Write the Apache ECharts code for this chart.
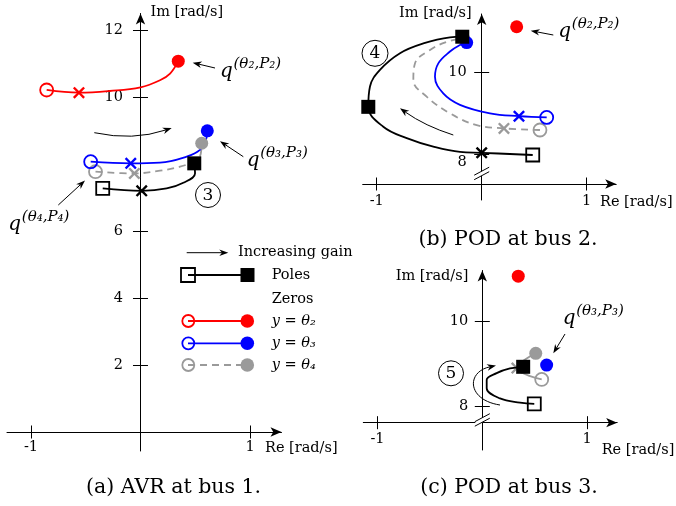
<!DOCTYPE html>
<html>
<head>
<meta charset="utf-8">
<title>Root loci</title>
<script src="https://cdn.jsdelivr.net/npm/echarts@6.0.0/dist/echarts.min.js"></script>
<style>
  html, body { margin: 0; padding: 0; background: #fff; }
  #chart { width: 676px; height: 506px; }
</style>
</head>
<body>
<div id="chart"></div>
<script>
const FONT = 'DejaVu Serif';
const RED = '#ff0000', BLUE = '#0000ff', GRAY = '#9a9a9a', BLACK = '#000000';

// (a) AVR at bus 1 -- loci as [Re, Im] rad/s, from open marker to filled marker
const avrPoles = [[-0.345, 7.27], [0.011, 7.2], [0.239, 7.27], [0.391, 7.44], [0.498, 7.72], [0.491, 8.02]];
const avrZerosT2 = [[-0.857, 10.21], [-0.562, 10.13], [-0.28, 10.18], [0, 10.29], [0.178, 10.5], [0.27, 10.7], [0.345, 11.07]];
const avrZerosT3 = [[-0.455, 8.07], [-0.089, 8.02], [0.178, 8.04], [0.422, 8.22], [0.543, 8.42], [0.598, 8.72], [0.61, 8.99]];
const avrZerosT4 = [[-0.411, 7.77], [-0.056, 7.72], [0.178, 7.8], [0.361, 7.92], [0.468, 8.05], [0.543, 8.22], [0.559, 8.62]];

// (b) POD at bus 2
const pod2Poles = [[0.486, 7.975], [0, 8.03], [-0.207, 8.05], [-0.461, 8.18], [-0.714, 8.39], [-0.937, 8.67], [-1.08, 9.16],
  [-1.064, 9.66], [-0.969, 10.07], [-0.778, 10.48], [-0.556, 10.72], [-0.302, 10.87], [-0.185, 10.885]];
const pod2ZerosT3 = [[0.619, 8.9], [0.355, 8.93], [0.079, 9.0], [-0.207, 9.21], [-0.366, 9.49], [-0.445, 9.9], [-0.413, 10.23],
  [-0.302, 10.52], [-0.207, 10.68], [-0.143, 10.74]];
const pod2ZerosT4 = [[0.555, 8.59], [0.212, 8.63], [-0.048, 8.71], [-0.302, 9.0], [-0.524, 9.41], [-0.651, 9.82], [-0.635, 10.23],
  [-0.492, 10.56], [-0.333, 10.76], [-0.175, 10.85]];
const pod2ZeroT2 = [[0.333, 11.13]];

// (c) POD at bus 3
const pod3Poles = [[0.496, 8.05], [0.36, 8.08], [0.169, 8.18], [0.042, 8.42], [0.042, 8.62], [0.137, 8.78], [0.264, 8.89], [0.39, 8.93]];
const pod3ZerosT4 = [[0.567, 8.63], [0.33, 8.9], [0.51, 9.25]];
const pod3ZeroT3 = [[0.614, 8.97]];
const pod3ZeroT2 = [[0.343, 11.08]];

// ticks
const reTicks = [-1, 1];
const avrImTicks = [2, 4, 6, 10, 12];
const podImTicks = [8, 10];

// plot boxes in px and the value ranges they show; axes cross at Re = 0 and at xCut (Im)
const panels = [
  { left: 7, top: 13.5, width: 274.5, height: 437.5, re: [-1.2192, 1.2877], im: [-0.567, 12.493], xCut: 0 },
  { left: 362.7, top: 14, width: 253.5, height: 186, re: [-1.1333, 1.281], im: [6.8684, 11.444], xCut: 7.262 },
  { left: 363.3, top: 270.5, width: 253.9, height: 179.5, re: [-1.1355, 1.2872], im: [6.956, 11.215], xCut: 7.604 }
];

const CROSS = 'path://M0,1.4L1.4,0L5,3.6L8.6,0L10,1.4L6.4,5L10,8.6L8.6,10L5,6.4L1.4,10L0,8.6L3.6,5Z';
const axisText = { fontFamily: FONT, fontSize: 14.5, color: '#000' };
const blackLine = { color: '#000', width: 1 };

// one locus: curve + open start marker + cross + filled marker(s)
function locus(p, pts, color, shape, crossAt, filledAt, dashed, z) {
  const base = { xAxisIndex: p * 2, yAxisIndex: p * 2, animation: false, silent: true, z: z || 2 };
  const out = [{
    ...base, type: 'line', data: pts, smooth: 0.4, showSymbol: false,
    lineStyle: { color, width: 1.8, type: dashed ? [7, 5] : 'solid' }
  }, {
    ...base, type: 'scatter', data: [pts[0]], symbol: shape, symbolSize: 13,
    itemStyle: { color: 'rgba(0,0,0,0)', borderColor: color, borderWidth: 1.8, opacity: 1 }
  }];
  if (crossAt != null) {
    out.push({ ...base, type: 'scatter', data: [pts[crossAt]], symbol: CROSS, symbolSize: 12, itemStyle: { color, opacity: 1 } });
  }
  out.push({
    ...base, type: 'scatter', data: filledAt.map(i => pts[i]), symbol: shape,
    symbolSize: shape === 'rect' ? 14 : 13, itemStyle: { color, opacity: 1 }
  });
  return out;
}

function dots(p, pts, color) {
  return { type: 'scatter', xAxisIndex: p * 2, yAxisIndex: p * 2, data: pts, symbol: 'circle', symbolSize: 13,
    itemStyle: { color, opacity: 1 }, animation: false, silent: true };
}

// where the axis lines sit, in px from the box edges
function cross(p) {
  const g = panels[p];
  const x0 = g.left + (0 - g.re[0]) / (g.re[1] - g.re[0]) * g.width;
  const y0 = g.top + g.height - (g.xCut - g.im[0]) / (g.im[1] - g.im[0]) * g.height;
  return { x0, y0, g };
}

// x axes: the visible one plus a twin that carries the upper half of each tick
function reAxes(p, margin) {
  const { y0, g } = cross(p);
  const common = { gridIndex: p, type: 'value', min: g.re[0], max: g.re[1], splitLine: { show: false } };
  return [{
    ...common, position: 'bottom', offset: y0 - (g.top + g.height),
    axisLine: { show: true, onZero: false, lineStyle: blackLine, symbol: ['none', 'arrow'], symbolSize: [7, 11] },
    axisTick: { show: true, customValues: reTicks, length: 6.5, lineStyle: blackLine },
    axisLabel: { customValues: reTicks, margin, ...axisText }
  }, {
    ...common, position: 'top', offset: g.top - y0,
    axisLine: { show: false, onZero: false },
    axisTick: { show: true, customValues: reTicks, length: 6.5, lineStyle: blackLine },
    axisLabel: { show: false }
  }];
}

function imAxes(p, ticks, o) {
  const { x0, g } = cross(p);
  const common = { gridIndex: p, type: 'value', min: g.im[0], max: g.im[1], splitLine: { show: false } };
  return [{
    ...common, position: 'left', offset: g.left - x0,
    axisLine: { show: true, onZero: false, lineStyle: blackLine, symbol: ['none', 'arrow'], symbolSize: [7, 11] },
    axisTick: { show: true, customValues: ticks, length: 7.5, lineStyle: blackLine },
    axisLabel: { customValues: ticks, margin: o.margin, ...axisText, formatter: o.formatter, rich: o.rich },
    name: 'Im [rad/s]', nameLocation: 'end', nameGap: o.nameGap, nameMoveOverlap: false,
    nameTextStyle: { ...axisText, align: o.nameAlign, verticalAlign: 'middle', padding: o.namePad }
  }, {
    ...common, position: 'right', offset: x0 - (g.left + g.width),
    axisLine: { show: false, onZero: false },
    axisTick: { show: true, customValues: ticks, length: 7.5, lineStyle: blackLine },
    axisLabel: { show: false }
  }];
}

// ---- annotation helpers (pixel space) ----
function txt(x, y, text, size, extra) {
  return { type: 'text', x, y, z: 20, silent: true,
    style: Object.assign({ text, fill: '#000', fontFamily: FONT, fontSize: size, align: 'left', verticalAlign: 'middle' }, extra || {}) };
}

function arrow(p0, p1, c1, c2) {
  const ctrl = c2 || c1 || p0;
  const ang = Math.atan2(p1[1] - ctrl[1], p1[0] - ctrl[0]);
  const ca = Math.cos(ang), sa = Math.sin(ang);
  const head = 9, w = 3.3;
  const back = [p1[0] - head * ca, p1[1] - head * sa];
  const notch = [p1[0] - head * 0.7 * ca, p1[1] - head * 0.7 * sa];
  const shape = { x1: p0[0], y1: p0[1], x2: notch[0], y2: notch[1] };
  if (c1) { shape.cpx1 = c1[0]; shape.cpy1 = c1[1]; }
  if (c2) { shape.cpx2 = c2[0]; shape.cpy2 = c2[1]; }
  return [
    c1 ? { type: 'bezierCurve', shape, z: 18, silent: true, style: { stroke: '#000', lineWidth: 1, fill: 'none' } }
       : { type: 'line', shape, z: 18, silent: true, style: { stroke: '#000', lineWidth: 1 } },
    { type: 'polygon', z: 18, silent: true,
      shape: { points: [p1, [back[0] + w * sa, back[1] - w * ca], notch, [back[0] - w * sa, back[1] + w * ca]] },
      style: { fill: '#000' } }
  ];
}

function qLabel(x, y, k) {
  return [
    txt(x, y, 'q', 20, { fontStyle: 'italic' }),
    txt(x + 13.5, y - 7, '(θ' + k + ',P' + k + ')', 15, { fontStyle: 'italic' })
  ];
}

function circled(cx, cy, r, n) {
  return [
    { type: 'circle', shape: { cx, cy, r }, z: 20, silent: true, style: { fill: 'none', stroke: '#000', lineWidth: 1 } },
    txt(cx, cy + 0.5, n, 17, { align: 'center' })
  ];
}

function axisBreak(cx, cy) {
  return [
    { type: 'polygon', z: 15, silent: true, shape: { points: [[cx - 7, cy + 4.5], [cx + 7, cy - 3], [cx + 7, cy - 7.5], [cx - 7, cy]] },
      style: { fill: '#fff' } },
    { type: 'line', z: 16, silent: true, shape: { x1: cx - 7.5, y1: cy + 4.7, x2: cx + 7.5, y2: cy - 3.3 }, style: { stroke: '#000', lineWidth: 1 } },
    { type: 'line', z: 16, silent: true, shape: { x1: cx - 7.5, y1: cy + 0.2, x2: cx + 7.5, y2: cy - 7.8 }, style: { stroke: '#000', lineWidth: 1 } }
  ];
}

function legendRow(y, color, shape, dashed) {
  const els = [{ type: 'line', z: 20, silent: true, shape: { x1: 188, y1: y, x2: 247, y2: y },
    style: { stroke: color, lineWidth: 1.8, lineDash: dashed ? [7, 5] : null } }];
  if (shape === 'rect') {
    els.push({ type: 'rect', z: 21, silent: true, shape: { x: 181, y: y - 7, width: 14, height: 14 }, style: { fill: 'none', stroke: color, lineWidth: 1.8 } });
    els.push({ type: 'rect', z: 21, silent: true, shape: { x: 240.5, y: y - 7, width: 14, height: 14 }, style: { fill: color } });
  } else {
    els.push({ type: 'circle', z: 21, silent: true, shape: { cx: 188.3, cy: y, r: 6 }, style: { fill: 'none', stroke: color, lineWidth: 1.8 } });
    els.push({ type: 'circle', z: 21, silent: true, shape: { cx: 247.3, cy: y, r: 6.8 }, style: { fill: color } });
  }
  return els;
}

const graphics = [].concat(
  // panel (a)
  arrow([94.3, 132.7], [171.7, 128], [133, 141]),
  arrow([215, 68], [192.7, 62.7]),
  arrow([243.3, 156.7], [220, 141.2]),
  arrow([58.3, 205], [85, 180.5]),
  qLabel(220, 71.5, '₂'),
  qLabel(246.7, 160.5, '₃'),
  qLabel(8.3, 224.5, '₄'),
  circled(208, 195, 12.5, '3'),
  arrow([186.7, 252.7], [228.3, 252.7]),
  [txt(238, 252, 'Increasing gain', 14.5)],
  legendRow(275, BLACK, 'rect', false),
  [txt(271.7, 275, 'Poles', 14.5), txt(271.7, 299, 'Zeros', 14.5)],
  legendRow(321, RED, 'circle', false),
  legendRow(343.3, BLUE, 'circle', false),
  legendRow(365, GRAY, 'circle', true),
  [txt(271.7, 321, 'y = θ₂', 14.5, { fontStyle: 'italic' }),
   txt(271.7, 343.3, 'y = θ₃', 14.5, { fontStyle: 'italic' }),
   txt(271.7, 365, 'y = θ₄', 14.5, { fontStyle: 'italic' }),
   txt(265, 448, 'Re [rad/s]', 14.5)],
  [txt(173.5, 488, '(a) AVR at bus 1.', 20.5, { align: 'center' })],
  // panel (b)
  arrow([453.3, 135], [400, 108.3], [425, 126]),
  arrow([553.3, 35], [530.7, 30.7]),
  qLabel(558.3, 31.5, '₂'),
  circled(375, 53.3, 13, '4'),
  axisBreak(481.7, 175),
  [txt(600, 202, 'Re [rad/s]', 14.5), txt(508, 240, '(b) POD at bus 2.', 20.5, { align: 'center' })],
  // panel (c)
  arrow([500, 405], [496, 365.5], [467, 400], [466, 372]),
  arrow([565, 334], [553.3, 353.3]),
  qLabel(562.7, 318.5, '₃'),
  circled(451, 373.3, 12.5, '5'),
  axisBreak(482.3, 421.5),
  [txt(601.7, 450, 'Re [rad/s]', 14.5), txt(509, 488, '(c) POD at bus 3.', 20.5, { align: 'center' })]
);

const chart = echarts.init(document.getElementById('chart'), null, { renderer: 'canvas' });

const option = {
  animation: false,
  backgroundColor: '#fff',
  grid: panels.map(g => ({ left: g.left, top: g.top, width: g.width, height: g.height, containLabel: false, outerBoundsMode: 'none' })),
  xAxis: [].concat(reAxes(0, 8), reAxes(1, 10), reAxes(2, 9)),
  yAxis: [].concat(
    imAxes(0, avrImTicks, { margin: 17.5, nameGap: 1, nameAlign: 'left', namePad: [0, 0, 0, 10] }),
    imAxes(1, podImTicks, {
      margin: 15, nameGap: 0.5, nameAlign: 'right', namePad: [0, 10, 0, 0],
      formatter: v => (v === 8 ? '{lo|8}' : String(v)),
      rich: { lo: { ...axisText, padding: [16, 0, 0, 0] } }
    }),
    imAxes(2, podImTicks, { margin: 14, nameGap: -6.2, nameAlign: 'right', namePad: [0, 14, 0, 0] })
  ),
  graphic: { elements: graphics },
  series: [].concat(
    // (a)
    locus(0, avrPoles, BLACK, 'rect', 1, [avrPoles.length - 1], false),
    locus(0, avrZerosT4, GRAY, 'circle', 1, [avrZerosT4.length - 1], true),
    locus(0, avrZerosT3, BLUE, 'circle', 1, [avrZerosT3.length - 1], false),
    locus(0, avrZerosT2, RED, 'circle', 1, [avrZerosT2.length - 1], false),
    // (b)
    locus(1, pod2ZerosT4, GRAY, 'circle', 1, [pod2ZerosT4.length - 1], true),
    locus(1, pod2ZerosT3, BLUE, 'circle', 1, [pod2ZerosT3.length - 1], false),
    locus(1, pod2Poles, BLACK, 'rect', 1, [6, pod2Poles.length - 1], false),
    [dots(1, pod2ZeroT2, RED)],
    // (c)
    locus(2, pod3ZerosT4, GRAY, 'circle', 1, [pod3ZerosT4.length - 1], false),
    locus(2, pod3Poles, BLACK, 'rect', null, [pod3Poles.length - 1], false, 3),
    [dots(2, pod3ZeroT3, BLUE), dots(2, pod3ZeroT2, RED)]
  )
};

chart.setOption(option);
</script>
</body>
</html>
